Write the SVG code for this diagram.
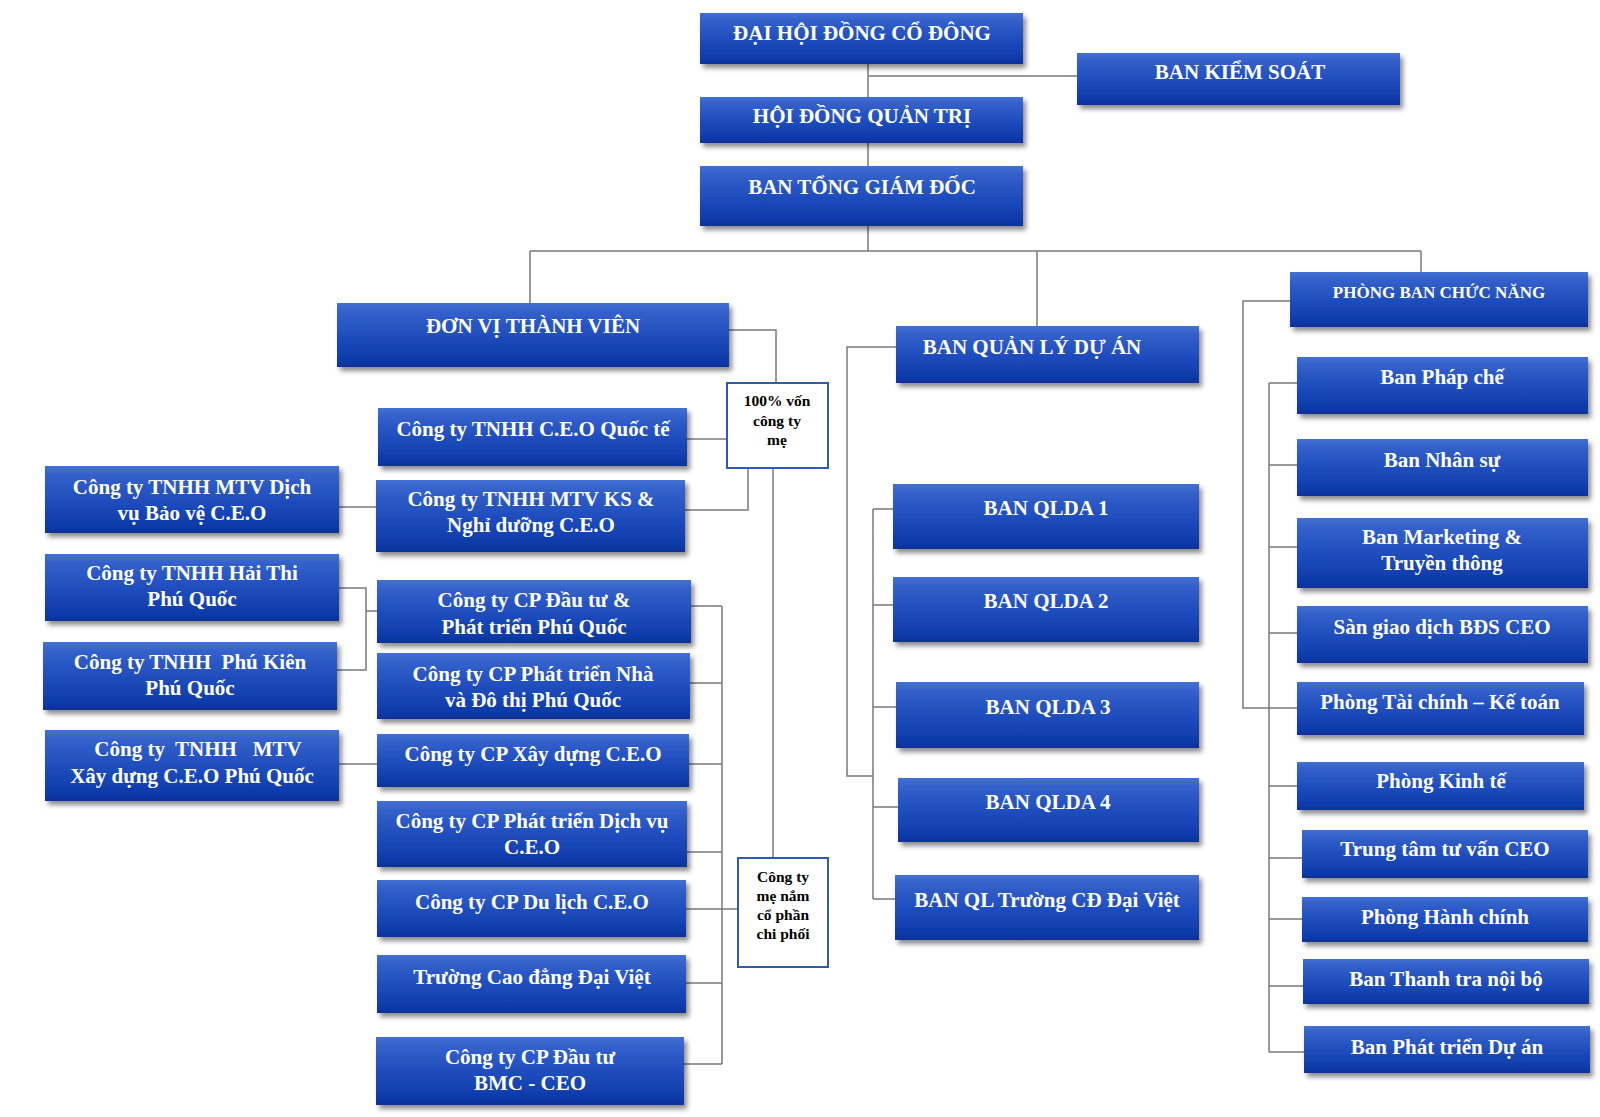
<svg xmlns="http://www.w3.org/2000/svg" width="1600" height="1117" viewBox="0 0 1600 1117">
<defs>
<linearGradient id="bg" x1="0" y1="0" x2="0" y2="1">
<stop offset="0" stop-color="#4371d2"/>
<stop offset="0.15" stop-color="#3360ca"/>
<stop offset="0.6" stop-color="#1b49ba"/>
<stop offset="0.9" stop-color="#0d3aa9"/>
<stop offset="1" stop-color="#0a3197"/>
</linearGradient>
<filter id="sh" x="-5%" y="-10%" width="115%" height="140%">
<feDropShadow dx="3" dy="4" stdDeviation="2.5" flood-color="#000" flood-opacity="0.45"/>
</filter>
</defs>
<style>
.b{fill:url(#bg);filter:url(#sh)}
.t{font-family:"Liberation Serif","Times New Roman",serif;font-weight:bold;font-size:21px;fill:#fff;text-anchor:middle}
.s{font-size:17px}
.w{fill:#fff;stroke:#2f5bb5;stroke-width:2}
.k{font-family:"Liberation Serif","Times New Roman",serif;font-weight:bold;font-size:15.5px;fill:#000;text-anchor:middle}
.c{fill:none;stroke:#7a7a7a;stroke-width:1.5}
</style>
<rect width="1600" height="1117" fill="#fff"/>
<g id="connectors" class="c">
<path d="M868,64V97M868,143V166M868,226V251M868,76H1077"/>
<path d="M530,251H1421M530,251V303M1037,251V326M1421,251V272"/>
<path d="M729,330H776V383"/>
<path d="M687,439H727"/>
<path d="M685,510H748V468"/>
<path d="M773,468V858"/>
<path d="M339,507H376"/>
<path d="M339,588H366V670H337M366,611H377"/>
<path d="M339,764H377"/>
<path d="M722,606V1064M691,606H722M690,683H722M689,764H722M687,852H722M686,909H738M686,983H722M684,1064H722"/>
<path d="M896,347H847V776H873M873,509V899M873,509H893M873,605H893M873,707H896M873,807H898M873,899H895"/>
<path d="M1290,301H1243V708H1297M1269,383V1052M1269,383H1297M1269,465H1297M1269,547H1297M1269,633H1297M1269,786H1297M1269,858H1302M1269,919H1302M1269,986H1303M1269,1052H1304"/>
</g>
<g id="dhdcd"><rect class="b" x="700" y="13" width="323" height="51"/><text class="t" x="862" y="40">ĐẠI HỘI ĐỒNG CỔ ĐÔNG</text></g>
<g id="bks"><rect class="b" x="1077" y="53" width="323" height="52"/><text class="t" x="1240" y="79">BAN KIỂM SOÁT</text></g>
<g id="hdqt"><rect class="b" x="700" y="97" width="323" height="46"/><text class="t" x="862" y="123">HỘI ĐỒNG QUẢN TRỊ</text></g>
<g id="btgd"><rect class="b" x="700" y="166" width="323" height="60"/><text class="t" x="862" y="194">BAN TỔNG GIÁM ĐỐC</text></g>
<g id="dvtv"><rect class="b" x="337" y="303" width="392" height="64"/><text class="t" x="533" y="333">ĐƠN VỊ THÀNH VIÊN</text></g>
<g id="von100"><rect class="w" x="727" y="383" width="101" height="85"/><text class="k" x="777" y="406">100% vốn</text><text class="k" x="777" y="426">công ty</text><text class="k" x="777" y="445">mẹ</text></g>
<g id="quocte"><rect class="b" x="378" y="408" width="309" height="58"/><text class="t" x="533" y="436">Công ty TNHH C.E.O Quốc tế</text></g>
<g id="ks"><rect class="b" x="376" y="480" width="309" height="72"/><text class="t" x="531" y="506">Công ty TNHH MTV KS &amp;</text><text class="t" x="531" y="532">Nghỉ dưỡng C.E.O</text></g>
<g id="baove"><rect class="b" x="45" y="466" width="294" height="67"/><text class="t" x="192" y="494">Công ty TNHH MTV Dịch</text><text class="t" x="192" y="520">vụ Bảo vệ C.E.O</text></g>
<g id="haithi"><rect class="b" x="45" y="554" width="294" height="67"/><text class="t" x="192" y="580">Công ty TNHH Hải Thi</text><text class="t" x="192" y="606">Phú Quốc</text></g>
<g id="phukien"><rect class="b" x="43" y="642" width="294" height="68"/><text class="t" x="190" y="669" xml:space="preserve">Công ty TNHH  Phú Kiên</text><text class="t" x="190" y="695">Phú Quốc</text></g>
<g id="xdpq"><rect class="b" x="45" y="730" width="294" height="71"/><text class="t" x="198" y="756" xml:space="preserve">Công ty  TNHH   MTV</text><text class="t" x="192" y="783">Xây dựng C.E.O Phú Quốc</text></g>
<g id="dtpq"><rect class="b" x="377" y="580" width="314" height="63"/><text class="t" x="534" y="607">Công ty CP Đầu tư &amp;</text><text class="t" x="534" y="634">Phát triển Phú Quốc</text></g>
<g id="ptnha"><rect class="b" x="377" y="653" width="313" height="66"/><text class="t" x="533" y="681">Công ty CP Phát triển Nhà</text><text class="t" x="533" y="707">và Đô thị Phú Quốc</text></g>
<g id="xd"><rect class="b" x="377" y="734" width="312" height="53"/><text class="t" x="533" y="761">Công ty CP Xây dựng C.E.O</text></g>
<g id="ptdv"><rect class="b" x="377" y="801" width="310" height="66"/><text class="t" x="532" y="828">Công ty CP Phát triển Dịch vụ</text><text class="t" x="532" y="854">C.E.O</text></g>
<g id="dulich"><rect class="b" x="377" y="880" width="309" height="57"/><text class="t" x="532" y="909">Công ty CP Du lịch C.E.O</text></g>
<g id="truongcd"><rect class="b" x="377" y="955" width="309" height="58"/><text class="t" x="532" y="984">Trường Cao đẳng Đại Việt</text></g>
<g id="bmc"><rect class="b" x="376" y="1037" width="308" height="68"/><text class="t" x="530" y="1064">Công ty CP Đầu tư</text><text class="t" x="530" y="1090">BMC - CEO</text></g>
<g id="chiphoi"><rect class="w" x="738" y="858" width="90" height="109"/><text class="k" x="783" y="882">Công ty</text><text class="k" x="783" y="901">mẹ nắm</text><text class="k" x="783" y="920">cổ phần</text><text class="k" x="783" y="939">chi phối</text></g>
<g id="bqlda"><rect class="b" x="896" y="326" width="303" height="57"/><text class="t" x="1032" y="354">BAN QUẢN LÝ DỰ ÁN</text></g>
<g id="qlda1"><rect class="b" x="893" y="484" width="306" height="65"/><text class="t" x="1046" y="515">BAN QLDA 1</text></g>
<g id="qlda2"><rect class="b" x="893" y="577" width="306" height="65"/><text class="t" x="1046" y="608">BAN QLDA 2</text></g>
<g id="qlda3"><rect class="b" x="896" y="682" width="303" height="66"/><text class="t" x="1048" y="714">BAN QLDA 3</text></g>
<g id="qlda4"><rect class="b" x="898" y="778" width="301" height="64"/><text class="t" x="1048" y="809">BAN QLDA 4</text></g>
<g id="qltruong"><rect class="b" x="895" y="875" width="304" height="65"/><text class="t" x="1047" y="907">BAN QL Trường CĐ Đại Việt</text></g>
<g id="pbcn"><rect class="b" x="1290" y="272" width="298" height="55"/><text class="t s" x="1439" y="298">PHÒNG BAN CHỨC NĂNG</text></g>
<g id="phapche"><rect class="b" x="1297" y="357" width="291" height="57"/><text class="t" x="1442" y="384">Ban Pháp chế</text></g>
<g id="nhansu"><rect class="b" x="1297" y="439" width="291" height="57"/><text class="t" x="1442" y="467">Ban Nhân sự</text></g>
<g id="marketing"><rect class="b" x="1297" y="518" width="291" height="70"/><text class="t" x="1442" y="544">Ban Marketing &amp;</text><text class="t" x="1442" y="570">Truyền thông</text></g>
<g id="san"><rect class="b" x="1297" y="606" width="291" height="57"/><text class="t" x="1442" y="634">Sàn giao dịch BĐS CEO</text></g>
<g id="taichinh"><rect class="b" x="1297" y="682" width="287" height="53"/><text class="t" x="1440" y="709">Phòng Tài chính – Kế toán</text></g>
<g id="kinhte"><rect class="b" x="1297" y="762" width="287" height="48"/><text class="t" x="1441" y="788">Phòng Kinh tế</text></g>
<g id="trungtam"><rect class="b" x="1302" y="830" width="286" height="48"/><text class="t" x="1445" y="856">Trung tâm tư vấn CEO</text></g>
<g id="hanhchinh"><rect class="b" x="1302" y="897" width="286" height="45"/><text class="t" x="1445" y="924">Phòng Hành chính</text></g>
<g id="thanhtra"><rect class="b" x="1303" y="959" width="286" height="45"/><text class="t" x="1446" y="986">Ban Thanh tra nội bộ</text></g>
<g id="ptda"><rect class="b" x="1304" y="1026" width="286" height="47"/><text class="t" x="1447" y="1054">Ban Phát triển Dự án</text></g>
</svg>
